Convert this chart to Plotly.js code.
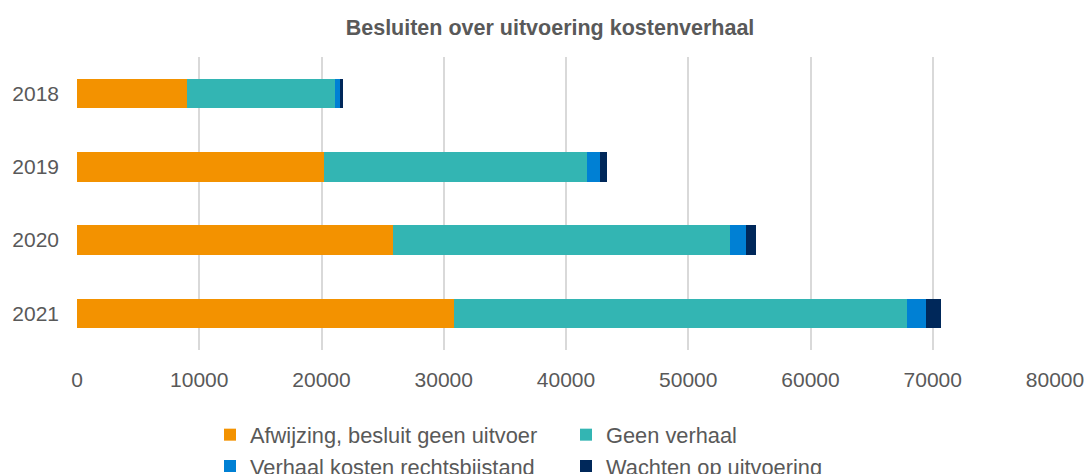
<!DOCTYPE html>
<html>
<head>
<meta charset="utf-8">
<script src="https://cdn.plot.ly/plotly-3.0.1.min.js"></script>
<style>html,body{margin:0;padding:0;background:#fff;}#chart{width:1087px;height:474px;}</style>
</head>
<body>
<div id="chart"></div>
<script>
var years = ['2018', '2019', '2020', '2021'];
var seriesNames = ['Afwijzing, besluit geen uitvoer', 'Geen verhaal', 'Verhaal kosten rechtsbijstand', 'Wachten op uitvoering'];
var afwijzing = [9030, 20210, 25830, 30850];
var geenVerhaal = [12080, 21520, 27610, 37040];
var verhaalKosten = [410, 1070, 1280, 1560];
var wachten = [270, 550, 820, 1230];
var xTicks = [0, 10000, 20000, 30000, 40000, 50000, 60000, 70000, 80000];
var colors = ['#F39200', '#33B5B3', '#0080D4', '#00285A'];

var values = [afwijzing, geenVerhaal, verhaalKosten, wachten];
var traces = values.map(function (v, i) {
  return {
    type: 'bar',
    orientation: 'h',
    name: seriesNames[i],
    x: v,
    y: years,
    marker: { color: colors[i] },
    hoverinfo: 'x+name'
  };
});

var font = { family: '"Liberation Sans", Arial, sans-serif', color: '#595959' };

var layout = {
  width: 1087,
  height: 474,
  paper_bgcolor: '#ffffff',
  plot_bgcolor: '#ffffff',
  barmode: 'stack',
  bargap: 0.6,
  margin: { l: 77, r: 32, t: 57, b: 124, autoexpand: false },
  font: font,
  title: {
    text: '<b>Besluiten over uitvoering kostenverhaal</b>',
    font: { family: font.family, color: '#595959', size: 21.5 },
    xref: 'container', x: 0.506, xanchor: 'center',
    yref: 'container', y: 1 - 27 / 474, yanchor: 'middle'
  },
  xaxis: {
    range: [0, 80000],
    tickvals: xTicks,
    ticktext: xTicks.map(String),
    showgrid: true,
    gridcolor: '#d9d9d9',
    gridwidth: 2,
    zeroline: false,
    showline: false,
    ticks: '',
    ticklabelstandoff: 15,
    tickfont: { family: font.family, color: '#595959', size: 21 }
  },
  yaxis: {
    type: 'category',
    categoryorder: 'array',
    categoryarray: years,
    autorange: 'reversed',
    showgrid: false,
    zeroline: false,
    showline: false,
    ticks: '',
    ticklabelstandoff: 17,
    tickfont: { family: font.family, color: '#595959', size: 21 }
  },
  showlegend: true,
  legend: {
    orientation: 'h',
    traceorder: 'normal',
    xref: 'paper', yref: 'paper',
    x: (210 - 77) / 978, xanchor: 'left',
    y: -(414 - 350) / 293, yanchor: 'top',
    entrywidth: 311,
    entrywidthmode: 'pixels',
    font: { family: font.family, color: '#595959', size: 21.8 },
    bgcolor: 'rgba(0,0,0,0)'
  }
};

Plotly.newPlot('chart', traces, layout, { displayModeBar: false, staticPlot: true });
</script>
</body>
</html>
